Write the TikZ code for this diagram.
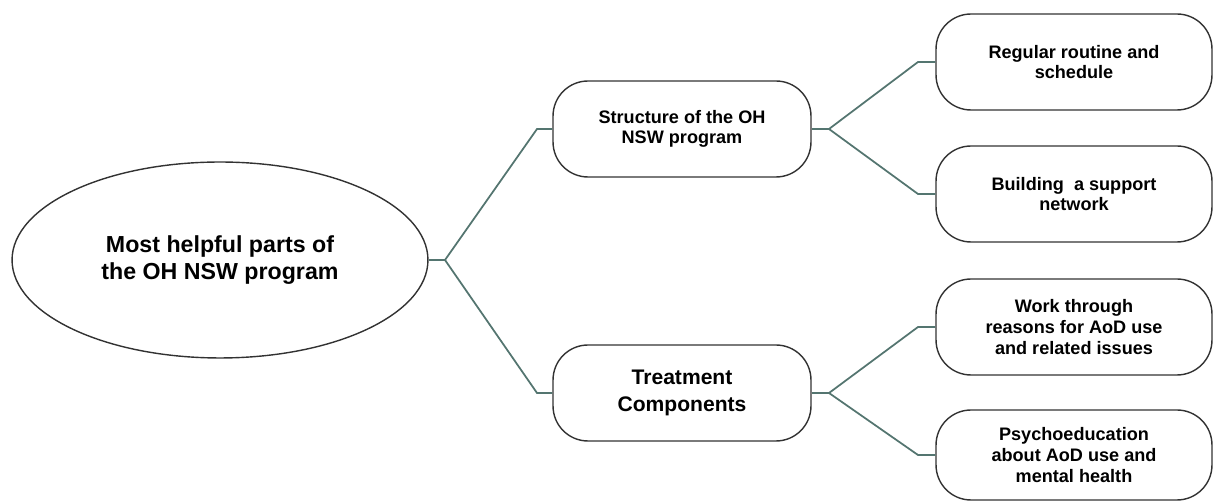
\documentclass[tikz,border=0pt]{standalone}
\usepackage{fontspec}
\setmainfont{Liberation Sans}
\usetikzlibrary{shapes.geometric}
\definecolor{linkgreen}{RGB}{84,117,112}
\definecolor{edgegray}{RGB}{50,50,50}

\begin{document}
\begin{tikzpicture}[x=0.02cm, y=-0.02cm,
  box/.style={draw=edgegray, line width=0.8pt, rounded corners=0.7cm,
    minimum width=5.16cm, minimum height=1.92cm, align=center,
    font=\bfseries\fontsize{10.3}{11.8}\selectfont},
  leaf/.style={box, minimum width=5.52cm},
  link/.style={draw=linkgreen, line width=1pt}]
  \useasboundingbox (0,0) rectangle (1214,502);

  \node[draw=edgegray, line width=0.8pt, ellipse, inner sep=0pt,
    minimum width=8.32cm, minimum height=3.92cm, align=center,
    font=\bfseries\fontsize{13.2}{15.5}\selectfont] (root) at (220,260)
    {Most helpful parts of\\the OH NSW program};

  \node[box] (struct) at (682,129) {Structure of the OH\\NSW program};
  \node[box, font=\bfseries\fontsize{12}{15.2}\selectfont] (treat) at (682,393)
    {Treatment\\Components};

  \node[leaf] (routine) at (1074,62) {Regular routine and\\schedule};
  \node[leaf] (network) at (1074,194) {Building~ a support\\network};
  \node[leaf] (reasons) at (1074,327) {Work through\\reasons for AoD use\\and related issues};
  \node[leaf, minimum height=1.8cm] (psycho) at (1074,455)
    {Psychoeducation\\about AoD use and\\mental health};

  \coordinate (j0) at (445,260);
  \coordinate (a1) at (537,129);
  \coordinate (a2) at (537,393);
  \coordinate (j1) at (829,129);
  \coordinate (j2) at (829,393);
  \coordinate (b1) at (918,62);
  \coordinate (b2) at (918,194);
  \coordinate (b3) at (918,327);
  \coordinate (b4) at (918,455);

  \draw[link] (root.east) -- (j0);
  \draw[link] (j0) -- (a1) -- (struct.west);
  \draw[link] (j0) -- (a2) -- (treat.west);

  \draw[link] (struct.east) -- (j1);
  \draw[link] (j1) -- (b1) -- (routine.west);
  \draw[link] (j1) -- (b2) -- (network.west);

  \draw[link] (treat.east) -- (j2);
  \draw[link] (j2) -- (b3) -- (reasons.west);
  \draw[link] (j2) -- (b4) -- (psycho.west);
\end{tikzpicture}
\end{document}
